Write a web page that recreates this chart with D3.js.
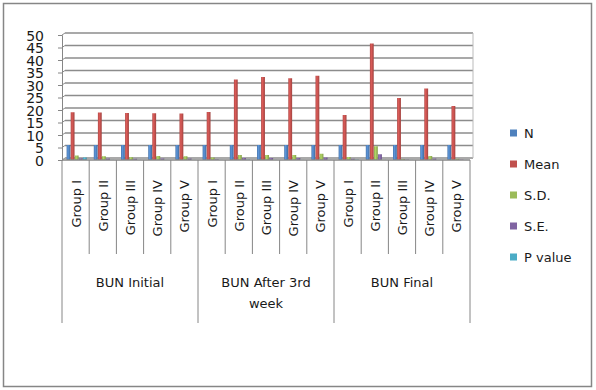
<!DOCTYPE html>
<html><head><meta charset="utf-8">
<script src="https://cdn.jsdelivr.net/npm/d3@7"></script>
<style>body{margin:0;background:#fff}svg{display:block}text{font-family:"DejaVu Sans",Verdana,sans-serif}</style>
</head><body>
<svg id="c" width="596" height="390"></svg>
<script>
const groups = ["BUN Initial", "BUN After 3rd week", "BUN Final"];
const categories = ["Group I", "Group II", "Group III", "Group IV", "Group V"];
const seriesNames = ["N", "Mean", "S.D.", "S.E.", "P value"];
const colors = ["#4f81bd", "#c0504d", "#9bbb59", "#8064a2", "#4bacc6"];
const N = [6,6,6,6,6, 6,6,6,6,6, 6,6,6,6,6];
const Mean = [19.1,19.0,18.8,18.7,18.6, 19.2,32.2,33.2,32.7,33.7, 18.0,46.6,24.8,28.6,21.6];
const SD = [1.8,1.5,1.1,1.6,1.5, 1.0,2.0,2.0,2.0,2.5, 1.2,5.5,0.4,1.6,0.5];
const SE = [0.7,0.6,0.5,0.6,0.6, 0.3,0.8,0.8,0.8,1.0, 0.5,2.3,0.2,0.6,0.2];
const Pval = [1.0,0.05,0.05,0.05,0.05, 0.05,0.2,0.05,0.05,0.05, 0.2,0.05,0.05,0.05,0.05];
const yTicks = [0,5,10,15,20,25,30,35,40,45,50];

const series = [N, Mean, SD, SE, Pval];
const svg = d3.select("#c");
svg.append("rect").attr("x",3.5).attr("y",3.5).attr("width",588).attr("height",383)
  .attr("fill","#fff").attr("stroke","#868686").attr("stroke-width",1.5);

const x0 = 62, x1 = 470, yTop = 35, yBot = 160;
const y = d3.scaleLinear().domain([0,50]).range([yBot,yTop]);
const cats = [];
groups.forEach(g => categories.forEach(c => cats.push(g+"|"+c)));
const x = d3.scaleBand().domain(cats).range([x0,x1]).paddingInner(0).paddingOuter(0);
const xs = d3.scaleBand().domain(seriesNames).range([4.6, 24.8]).paddingInner(0.06).paddingOuter(0);

const grid = svg.append("g");
yTicks.forEach(t => {
  const yy = y(t);
  grid.append("line").attr("x1",x0+3).attr("x2",x1+3).attr("y1",yy-2).attr("y2",yy-2)
    .attr("stroke","#8c8c8c").attr("stroke-width",1.6);
  grid.append("line").attr("x1",x0).attr("x2",x0+3).attr("y1",yy).attr("y2",yy-2)
    .attr("stroke","#8c8c8c").attr("stroke-width",1);
});
grid.append("line").attr("x1",x1+3).attr("x2",x1+3).attr("y1",y(50)-2).attr("y2",y(0)-2).attr("stroke","#bbb");

const yAxis = d3.axisLeft(y).tickValues(yTicks).tickSize(4).tickPadding(14);
const ga = svg.append("g").attr("transform",`translate(${x0},0)`).call(yAxis);
ga.select(".domain").attr("stroke","#868686");
ga.selectAll(".tick line").attr("stroke","#868686");
ga.selectAll(".tick text").attr("font-size",14).attr("fill","#1a1a1a").attr("dy","0.36em");

const gradDefs = svg.append("defs");
colors.forEach((c,i) => {
  const lg = gradDefs.append("linearGradient").attr("id","g"+i).attr("x1","0").attr("x2","1");
  lg.append("stop").attr("offset","0").attr("stop-color",d3.color(c).darker(0.3));
  lg.append("stop").attr("offset","0.35").attr("stop-color",d3.color(c).brighter(0.4));
  lg.append("stop").attr("offset","1").attr("stop-color",d3.color(c).darker(0.5));
});
const bars = svg.append("g");
series.forEach((vals,si) => {
  bars.selectAll(null).data(vals).enter().append("rect")
    .attr("x",(d,i)=>x(cats[i]) + xs(seriesNames[si]))
    .attr("width",xs.bandwidth())
    .attr("y",d=>y(d))
    .attr("height",d=>y(0)-y(d))
    .attr("fill","url(#g"+si+")");
});

svg.append("line").attr("x1",x0).attr("x2",x1).attr("y1",yBot).attr("y2",yBot).attr("stroke","#868686").attr("stroke-width",1.5);
cats.forEach((c,i) => {
  const xx = x(c);
  const isGroup = i % 5 === 0;
  svg.append("line").attr("x1",xx).attr("x2",xx).attr("y1",yBot).attr("y2",isGroup?323:254)
    .attr("stroke","#868686");
});
svg.append("line").attr("x1",x1).attr("x2",x1).attr("y1",yBot).attr("y2",323).attr("stroke","#868686");

cats.forEach((c,i) => {
  const cx = x(c) + x.bandwidth()/2;
  svg.append("text").attr("transform",`translate(${cx+5},180) rotate(-90)`)
    .attr("text-anchor","end").attr("font-size",13).attr("fill","#1a1a1a")
    .text(c.split("|")[1]);
});
groups.forEach((g,gi) => {
  const gx = (x(cats[gi*5]) + x(cats[gi*5+4]) + x.bandwidth())/2;
  const lines = g === "BUN After 3rd week" ? ["BUN After 3rd","week"] : [g];
  lines.forEach((ln,li) => {
    svg.append("text").attr("x",gx).attr("y",287+li*21).attr("text-anchor","middle")
      .attr("font-size",13).attr("fill","#1a1a1a").text(ln);
  });
});

const lg = svg.append("g");
seriesNames.forEach((s,i) => {
  const yy = 133 + i*31;
  lg.append("rect").attr("x",510).attr("y",yy-3.5).attr("width",7).attr("height",7).attr("fill",colors[i]);
  lg.append("text").attr("x",524).attr("y",yy+5).attr("font-size",13).attr("fill","#1a1a1a").text(s);
});
</script>
</body></html>
